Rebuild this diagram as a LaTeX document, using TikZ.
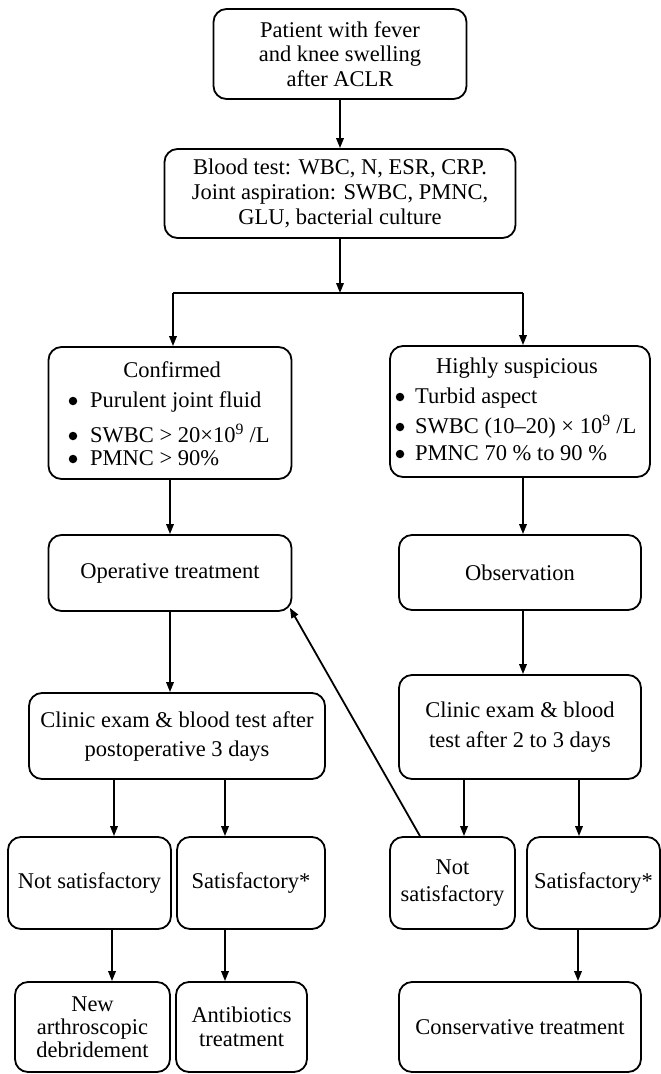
\documentclass[tikz,border=0pt]{standalone}
\usepackage{fontspec}
\setmainfont{Liberation Serif}
\usetikzlibrary{arrows.meta,calc}
\begin{document}
\begin{tikzpicture}[x=1pt,y=-1pt,
  box/.style={draw, line width=1.8pt, rounded corners=13pt, inner sep=0pt, align=center,
    font=\fontsize{22.5}{24.5}\selectfont},
  txt/.style={inner sep=0pt, font=\fontsize{22.5}{24.5}\selectfont},
  dot/.style={circle, fill, inner sep=0pt, minimum size=8.5pt},
  arr/.style={line width=1.8pt, -{Triangle[length=10pt,width=7.5pt]}},
  ln/.style={line width=1.8pt}]
\useasboundingbox (0,0) rectangle (661,1074);
% boxes
\node[box, minimum width=253pt, minimum height=90pt] (b1) at (340,54) {Patient with fever\\and knee swelling\\after ACLR};
\node[box, minimum width=351pt, minimum height=89pt, font=\fontsize{22.5}{25}\selectfont] (b2) at (340,193.5) {Blood test: WBC, N, ESR, CRP.\\Joint aspiration: SWBC, PMNC,\\GLU, bacterial culture};
\node[box, minimum width=243pt, minimum height=132pt] (conf) at (170,413) {};
\node[box, minimum width=260pt, minimum height=131pt] (hs) at (520,411.5) {};
\node[box, minimum width=243pt, minimum height=76pt] (op) at (170,573) {Operative treatment};
\node[box, minimum width=242pt, minimum height=75pt] (obs) at (520,572.5) {Observation};
\node[box, minimum width=296pt, minimum height=86pt, font=\fontsize{22.5}{29}\selectfont] (lc) at (177,736) {Clinic exam \& blood test after\\postoperative 3 days};
\node[box, minimum width=242pt, minimum height=104pt, font=\fontsize{22.5}{30}\selectfont] (rc) at (520,727) {Clinic exam \& blood\\test after 2 to 3 days};
\node[box, minimum width=163pt, minimum height=92pt] (ns1) at (89.5,883) {Not satisfactory};
\node[box, minimum width=148pt, minimum height=92pt] (s1) at (251,883) {Satisfactory*};
\node[box, minimum width=125pt, minimum height=92pt, font=\fontsize{22.5}{27}\selectfont] (ns2) at (452.5,883) {Not\\satisfactory};
\node[box, minimum width=133pt, minimum height=92pt] (s2) at (593.5,883) {Satisfactory*};
\node[box, minimum width=155pt, minimum height=90pt, font=\fontsize{22.5}{23}\selectfont] (na) at (92.5,1027) {New\\arthroscopic\\debridement};
\node[box, minimum width=131pt, minimum height=90pt] (ab) at (241.5,1027) {Antibiotics\\treatment};
\node[box, minimum width=242pt, minimum height=90pt] (ct) at (520,1027) {Conservative treatment};
% bullet box texts
\node[txt, anchor=base] (conft) at (172,377) {Confirmed};
\node[dot] (cd1) at (73,401) {};
\node[dot] (cd2) at (73,436) {};
\node[dot] (cd3) at (73,459) {};
\node[txt, anchor=base west] (conf1) at (90,407) {Purulent joint fluid};
\node[txt, anchor=base west] (conf2) at (90,442) {SWBC > 20×10\textsuperscript{9} /L};
\node[txt, anchor=base west] (conf3) at (90,465) {PMNC > 90\%};
\node[txt, anchor=base] (hst) at (517,373) {Highly suspicious};
\node[dot] (hd1) at (400,397) {};
\node[dot] (hd2) at (400,427) {};
\node[dot] (hd3) at (400,454) {};
\node[txt, anchor=base west] (hs1) at (415,403) {Turbid aspect};
\node[txt, anchor=base west] (hs2) at (415,433) {SWBC (10–20) × 10\textsuperscript{9} /L};
\node[txt, anchor=base west] (hs3) at (415,460) {PMNC 70 \% to 90 \%};
% helper coordinates
\coordinate (split) at (340,293);
\coordinate (sl) at (173,293);
\coordinate (sr) at (523,293);
\coordinate (xr) at (523,0);
\coordinate (xa) at (114,0);
\coordinate (xb) at (225,0);
\coordinate (xc) at (464,0);
\coordinate (xd) at (579,0);
\coordinate (xe) at (112,0);
\coordinate (xg) at (578,0);
\coordinate (xh) at (420,0);
% connectors
\draw[arr] (b1.south) -- (b2.north);
\draw[arr] (b2.south) -- (split);
\draw[ln] (sl) -- (sr);
\draw[arr] (sl) -- (sl |- conf.north);
\draw[arr] (sr) -- (sr |- hs.north);
\draw[arr] (conf.south) -- (op.north);
\draw[arr] (hs.south -| xr) -- (obs.north -| xr);
\draw[arr] (op.south) -- (lc.north -| op.south);
\draw[arr] (obs.south -| xr) -- (rc.north -| xr);
\draw[arr] (lc.south -| xa) -- (ns1.north -| xa);
\draw[arr] (lc.south -| xb) -- (s1.north -| xb);
\draw[arr] (rc.south -| xc) -- (ns2.north -| xc);
\draw[arr] (rc.south -| xd) -- (s2.north -| xd);
\draw[arr] (ns1.south -| xe) -- (na.north -| xe);
\draw[arr] (s1.south -| xb) -- (ab.north -| xb);
\draw[arr] (s2.south -| xg) -- (ct.north -| xg);
\draw[arr] (ns2.north -| xh) -- ([xshift=-2.5pt,yshift=4pt]op.south east);
\end{tikzpicture}
\end{document}
